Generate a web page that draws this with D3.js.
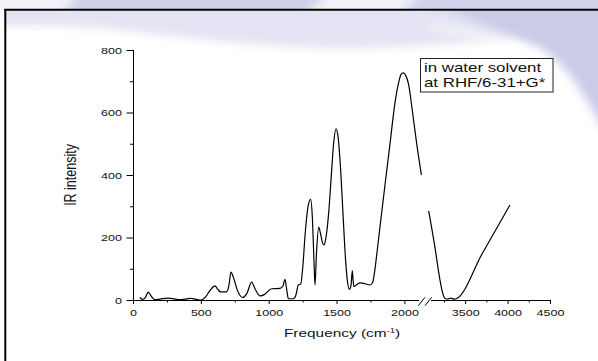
<!DOCTYPE html>
<html><head><meta charset="utf-8">
<script src="https://cdn.jsdelivr.net/npm/d3@7"></script>
<style>
html,body{margin:0;padding:0;background:#fff;}
svg{display:block;}
text{font-family:"Liberation Sans",Arial,sans-serif;fill:#111;}
</style></head>
<body>
<svg id="chart" width="598" height="361"></svg>
<script>
// ---- data ----
const freqLow = [50,70,88,113,135,162,200,260,310,346,385,420,460,500,535,570,604,625,645,690,706,722,740,770,808,840,874,900,936,970,1000,1022,1083,1105,1120,1132,1145,1181,1200,1218,1236,1250,1270,1290,1309,1322,1333,1341,1352,1368,1382,1395,1407,1420,1440,1460,1478,1496,1510,1528,1548,1566,1580,1594,1606,1616,1622,1628,1650,1673,1710,1746,1765,1780,1800,1820,1860,1894,1930,1956,1975,1992,2010,2029,2060,2090,2125];
const irLow   = [8,2,6,25,12,1,3,6,3,1,3,5,3,0,10,32,45,34,26,26,45,89,72,30,8,22,57,35,13,18,30,36,37,45,66,35,4,4,15,48,51,100,220,300,322,260,130,48,150,233,212,185,176,195,270,390,500,548,525,430,270,130,60,34,45,94,62,43,50,55,52,48,55,90,160,235,380,501,630,693,722,727,718,693,600,501,400];
const freqHigh = [3070,3140,3203,3235,3262,3300,3330,3370,3400,3700,4028];
const irHigh   = [285,175,64,22,5,3,6,3,5,148,304];
const xTicksLow = [0,500,1000,1500,2000];
const xMinorLow = [250,750,1250,1750];
const xTicksHigh = [3500,4000,4500];
const xMinorHigh = [3250,3750,4250];
const yTicks = [0,200,400,600,800];
const yMinor = [100,300,500,700];
const legendLines = ["in water solvent","at RHF/6-31+G*"];

const SX = 1.35; // horizontal stretch of the original picture's text
const svg = d3.select("#chart");

// ---- background watermark ----
const defs = svg.append("defs");
defs.append("filter").attr("id","blur").attr("x","-20%").attr("y","-50%").attr("width","140%").attr("height","200%")
  .append("feGaussianBlur").attr("stdDeviation",5);
defs.append("clipPath").attr("id","topstrip").append("rect").attr("x",0).attr("y",0).attr("width",598).attr("height",9);
defs.append("clipPath").attr("id","below").append("rect").attr("x",6).attr("y",10).attr("width",592).attr("height",351);
const bgTop = svg.append("g").attr("clip-path","url(#topstrip)");
bgTop.append("rect").attr("x",0).attr("y",0).attr("width",598).attr("height",9).attr("fill","#f1f1f8");
bgTop.append("path").attr("d","M80,-10 L330,-10 L300,20 L60,20 Z").attr("fill","#cfcfe8").attr("filter","url(#blur)");
bgTop.append("path").attr("d","M420,-10 L620,-10 L620,20 L400,20 Z").attr("fill","#d2d2ec").attr("filter","url(#blur)");
const bg = svg.append("g").attr("clip-path","url(#below)");
bg.append("path").attr("d","M0,4 L598,4 L598,30 C500,40 420,48 340,48 C260,48 180,36 100,28 C60,25 30,25 0,26 Z")
  .attr("fill","#e3e3f3").attr("filter","url(#blur)");
bg.append("path").attr("d","M430,4 L610,4 L610,140 C592,110 575,75 550,55 C520,35 470,20 430,4 Z")
  .attr("fill","#cbcbe8").attr("filter","url(#blur)");
bg.append("path").attr("d","M430,22 C470,28 510,40 545,55 L540,62 C505,48 470,36 430,30 Z")
  .attr("fill","#ffffff").attr("opacity",0.6).attr("filter","url(#blur)");

// ---- frame ----
svg.append("line").attr("x1",4.3).attr("x2",598).attr("y1",9.7).attr("y2",9.7).attr("stroke","#000").attr("stroke-width",2);
svg.append("line").attr("x1",5.3).attr("x2",5.3).attr("y1",9).attr("y2",361).attr("stroke","#000").attr("stroke-width",2);

// ---- scales ----
const x0 = 133, y0 = 300;
const xLow = d3.scaleLinear().domain([0,2125]).range([133,421.4]);
const xHigh = d3.scaleLinear().domain([3070,4500]).range([428.7,550]);
const y = d3.scaleLinear().domain([0,800]).range([300,50]);

const g = svg.append("g");

// ---- curve ----
const line = (xs) => d3.line().x(d=>xs(d[0])).y(d=>y(d[1])).curve(d3.curveMonotoneX);
g.append("path").datum(d3.zip(freqLow,irLow)).attr("d",line(xLow))
  .attr("fill","none").attr("stroke","#000").attr("stroke-width",1.2);
g.append("path").datum(d3.zip(freqHigh,irHigh)).attr("d",line(xHigh))
  .attr("fill","none").attr("stroke","#000").attr("stroke-width",1.2);

// ---- x axis ----
function xAxis(scale, major, minor){
  const ga = g.append("g").attr("transform",`translate(0,${y0})`);
  ga.call(d3.axisBottom(scale).tickValues(major).tickSize(4).tickPadding(0).tickFormat(d3.format("d")));
  ga.select(".domain").remove();
  ga.selectAll(".tick line").attr("stroke","#000");
  ga.selectAll(".tick text").attr("y",16).attr("dy",0).attr("font-size",9.3)
    .attr("font-family","Liberation Sans, Arial, sans-serif").attr("fill","#111")
    .attr("transform",`scale(${SX},1)`);
  const gm = g.append("g").attr("transform",`translate(0,${y0})`);
  gm.call(d3.axisBottom(scale).tickValues(minor).tickSize(2.5).tickFormat(""));
  gm.select(".domain").remove();
  gm.selectAll(".tick line").attr("stroke","#000");
}
xAxis(xLow, xTicksLow, xMinorLow);
xAxis(xHigh, xTicksHigh, xMinorHigh);
// axis line with break
g.append("line").attr("x1",xLow(0)-1).attr("x2",419).attr("y1",y0+0.5).attr("y2",y0+0.5).attr("stroke","#000");
g.append("line").attr("x1",431).attr("x2",xHigh(4500)).attr("y1",y0+0.5).attr("y2",y0+0.5).attr("stroke","#000");
g.append("line").attr("x1",418.3).attr("y1",305.7).attr("x2",425).attr("y2",297.3).attr("stroke","#000");
g.append("line").attr("x1",425).attr("y1",305.7).attr("x2",431.7).attr("y2",297.3).attr("stroke","#000");

// ---- y axis ----
const gy = g.append("g").attr("transform",`translate(${x0+0.5},0)`);
gy.call(d3.axisLeft(y).tickValues(yTicks).tickSize(7).tickFormat(d3.format("d")));
gy.select(".domain").attr("stroke","#000").attr("d",`M0,${y(800)}V${y(0)}`);
gy.selectAll(".tick line").attr("stroke","#000");
gy.selectAll(".tick text").attr("x",-11.5/SX).attr("dy","0.35em").attr("font-size",9.3)
  .attr("font-family","Liberation Sans, Arial, sans-serif").attr("fill","#111")
  .attr("transform",`scale(${SX},1)`);
const gym = g.append("g").attr("transform",`translate(${x0+0.5},0)`);
gym.call(d3.axisLeft(y).tickValues(yMinor).tickSize(3.5).tickFormat(""));
gym.select(".domain").remove();
gym.selectAll(".tick line").attr("stroke","#000");

// ---- titles ----
const xt = g.append("text").attr("transform",`translate(342,337) scale(${SX},1)`)
  .attr("text-anchor","middle").attr("font-size",11.4);
xt.append("tspan").text("Frequency (cm");
xt.append("tspan").attr("font-size",7).attr("dy",-4.5).text("-1");
xt.append("tspan").attr("dy",4.5).text(")");

g.append("text").attr("transform",`translate(76,175) scale(${SX},1) rotate(-90)`)
  .attr("text-anchor","middle").attr("font-size",12.5).text("IR intensity");

// ---- legend ----
g.append("rect").attr("x",420.5).attr("y",58.5).attr("width",132.5).attr("height",33.5)
  .attr("fill","#fff").attr("stroke","#222").attr("stroke-width",1);
legendLines.forEach((t,i)=>{
  g.append("text").attr("transform",`translate(424,${72.3+i*15}) scale(${SX},1)`)
    .attr("font-size",12.5).text(t);
});
</script>
</body></html>
